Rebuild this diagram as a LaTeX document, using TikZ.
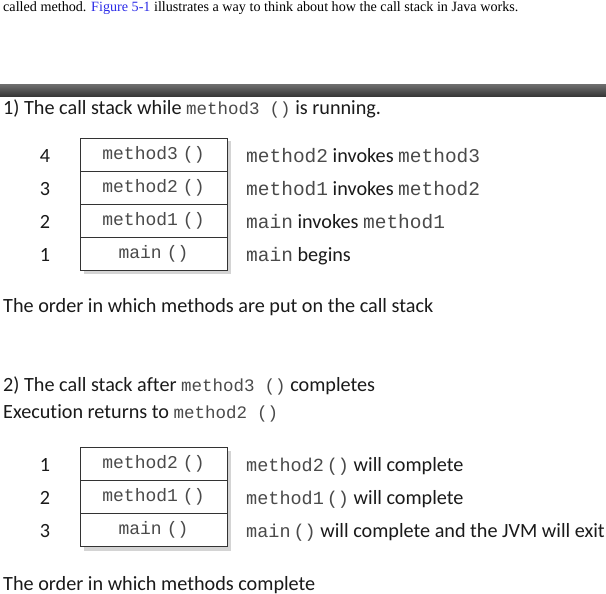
\documentclass[tikz,border=0pt]{standalone}
\usepackage{fontspec}
\newfontfamily\gill[Ligatures=NoCommon]{Carlito}
\newfontfamily\cour{Liberation Mono}
\newfontfamily\tim{Liberation Serif}
\definecolor{txt}{HTML}{1A1A1A}
\definecolor{mono}{HTML}{4A4A4A}
\definecolor{linkblue}{HTML}{2B2BE8}
\definecolor{shadowgray}{HTML}{D4D4D4}
\newcommand\mt[1]{{\cour\fontsize{19.5}{20}\selectfont\color{mono}#1}}
\newcommand\me[1]{{\cour\fontsize{18.5}{20}\selectfont\color{mono}#1}}
\newcommand\mtt[1]{{\cour\fontsize{17.5}{18}\selectfont\color{mono}#1}}
\begin{document}
\begin{tikzpicture}[x=1pt,y=-1pt,
  txtline/.style={anchor=base west, inner sep=0pt, text=txt, font=\gill\fontsize{20.2}{22}\selectfont},
  numlabel/.style={anchor=base, inner sep=0pt, text=txt, font=\gill\fontsize{20.2}{22}\selectfont},
  rowbox/.style={draw=black!80, line width=0.9pt, fill=white, minimum width=147pt, minimum height=33pt, inner sep=0pt, text=mono, font=\cour\fontsize{18}{18}\selectfont},
  shadowbox/.style={fill=shadowgray}]
\useasboundingbox (0,0) rectangle (606,594);
\fill[white] (0,0) rectangle (606,594);
% intro line
\node[anchor=base west, inner sep=0pt, text=black, font=\tim\fontsize{14.15}{15}\selectfont] (intro) at (3,12)
  {called method. \textcolor{linkblue}{Figure 5-1} illustrates a way to think about how the call stack in Java works.};
% separator bar
\shade[top color=black!58, bottom color=black!80] (0,85) rectangle (606,97);
% part 1
\node[txtline] (t1) at (3,115) {1) The call stack while \mtt{method3\kern10pt()} is running.};
\fill[shadowgray] (84,141) rectangle (231,274);
\node[rowbox] (a4) at (153.5,154.5) {method3\kern5pt()};
\node[rowbox] (a3) at (153.5,187.5) {method2\kern5pt()};
\node[rowbox] (a2) at (153.5,220.5) {method1\kern5pt()};
\node[rowbox] (a1) at (153.5,253.5) {main\kern5pt()};
\node[numlabel] (n4) at (45,162) {4};
\node[numlabel] (n3) at (45,195) {3};
\node[numlabel] (n2) at (45,228) {2};
\node[numlabel] (n1) at (45,261) {1};
\node[txtline] (d4) at (246,162) {\mt{method2} invokes \mt{method3}};
\node[txtline] (d3) at (246,195) {\mt{method1} invokes \mt{method2}};
\node[txtline] (d2) at (246,228) {\mt{main} invokes \mt{method1}};
\node[txtline] (d1) at (246,261) {\mt{main} begins};
\node[txtline] (c1) at (3,312) {The order in which methods are put on the call stack};
% part 2
\node[txtline] (t2) at (3,391) {2) The call stack after \mtt{method3\kern10pt()} completes};
\node[txtline] (t3) at (3,418) {Execution returns to \mtt{method2\kern10pt()}};
\fill[shadowgray] (84,451) rectangle (231,551);
\node[rowbox] (b1) at (153.5,463.5) {method2\kern5pt()};
\node[rowbox] (b2) at (153.5,496.5) {method1\kern5pt()};
\node[rowbox] (b3) at (153.5,529.5) {main\kern5pt()};
\node[numlabel] (m1) at (45,471) {1};
\node[numlabel] (m2) at (45,504) {2};
\node[numlabel] (m3) at (45,537) {3};
\node[txtline] (e1) at (246,471) {\me{method2\kern3pt()} will complete};
\node[txtline] (e2) at (246,504) {\me{method1\kern3pt()} will complete};
\node[txtline] (e3) at (246,537) {\me{main\kern3pt()} will complete and the JVM will exit};
\node[txtline] (c2) at (3,590) {The order in which methods complete};
\end{tikzpicture}
\end{document}
